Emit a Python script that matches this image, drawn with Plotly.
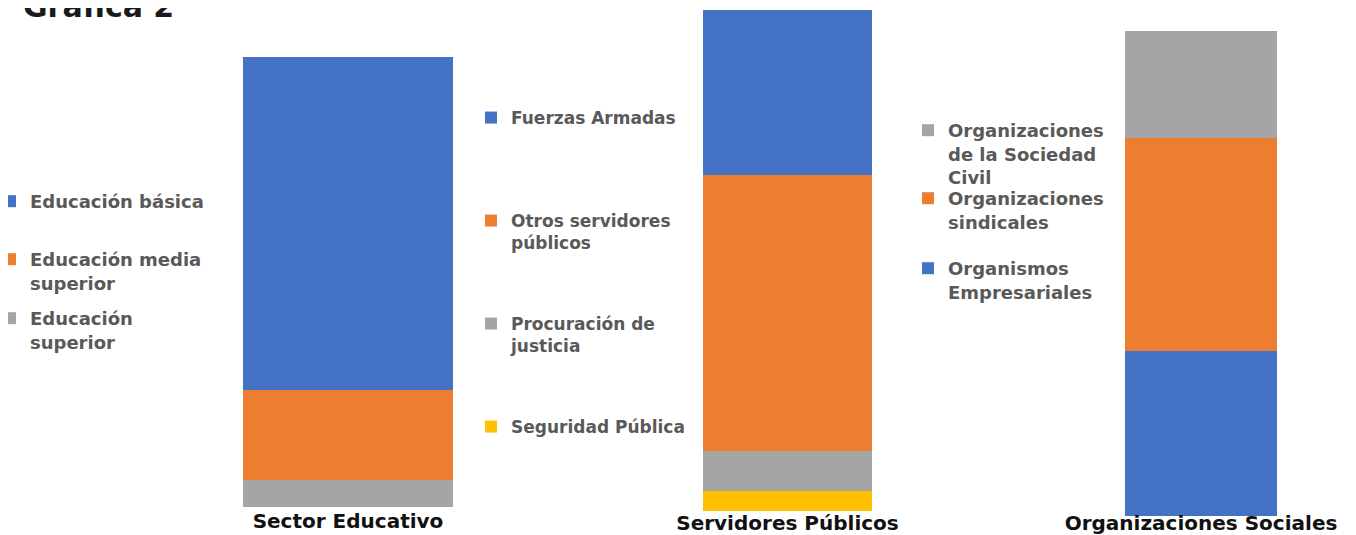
import plotly.graph_objects as go

W, H = 1356, 535
OFF = 8  # page margin offset of the figure inside the window
FONT = "DejaVu Sans"

BLUE, ORANGE, GREY, YELLOW = "#4472C4", "#ED7D31", "#A5A5A5", "#FFC000"

groups = ["Sector Educativo", "Servidores Públicos", "Organizaciones Sociales"]

# stacking order: bottom -> top
edu_labels = ["Educación<br>superior", "Educación media<br>superior", "Educación básica"]
edu_values = [6, 20, 74]
edu_colors = [GREY, ORANGE, BLUE]

pub_labels = ["Seguridad Pública", "Procuración de<br>justicia", "Otros servidores<br>públicos", "Fuerzas Armadas"]
pub_values = [4, 8, 55, 33]
pub_colors = [YELLOW, GREY, ORANGE, BLUE]

org_labels = ["Organismos<br>Empresariales", "Organizaciones<br>sindicales", "Organizaciones<br>de la Sociedad<br>Civil"]
org_values = [34, 44, 22]
org_colors = [BLUE, ORANGE, GREY]

# layout of each panel (window pixels): bar x extents, bar top/bottom, legend entries (text x, first line centre y)
panels = [
    dict(labels=edu_labels, values=edu_values, colors=edu_colors,
         x0=243, x1=453, ytop=57, ybot=507, standoff=0, legsize=18,
         leg=[(30, 318), (30, 259), (30, 201)]),
    dict(labels=pub_labels, values=pub_values, colors=pub_colors,
         x0=703, x1=872, ytop=10, ybot=511, standoff=-2, legsize=17,
         leg=[(511, 426), (511, 323), (511, 220), (511, 117)]),
    dict(labels=org_labels, values=org_values, colors=org_colors,
         x0=1125, x1=1277, ytop=31, ybot=516, standoff=-7, legsize=18,
         leg=[(948, 268), (948, 198), (948, 130)]),
]


def px(x):
    return (x - OFF) / W


def py(y):
    return 1 - (y - OFF) / H


fig = go.Figure()
layout = dict(
    width=W, height=H, margin=dict(l=0, r=0, t=0, b=0, autoexpand=False),
    paper_bgcolor="white", plot_bgcolor="white",
    barmode="stack", bargap=0,
    font=dict(family=FONT, color="#595959"),
    annotations=[dict(
        text="Gráfica 2", xref="paper", yref="paper", x=px(21), xanchor="left",
        y=py(7), yanchor="middle", showarrow=False,
        font=dict(family=FONT, size=30, color="#1a1a1a", weight="bold"),
    )],
)

leg_n = 1
for i, p in enumerate(panels):
    sfx = "" if i == 0 else str(i + 1)
    for lab, val, col, (lx, ly) in zip(p["labels"], p["values"], p["colors"], p["leg"]):
        lname = "legend" if leg_n == 1 else f"legend{leg_n}"
        fig.add_trace(go.Bar(
            x=[groups[i]], y=[val], name=lab, marker=dict(color=col, line=dict(width=0)),
            xaxis="x" + sfx, yaxis="y" + sfx, legend=lname, showlegend=True,
        ))
        layout[lname] = dict(
            x=px(lx - 40), xanchor="left", y=py(ly - p["legsize"]), yanchor="top",
            bgcolor="rgba(0,0,0,0)", borderwidth=0, valign="top",
            font=dict(family=FONT, size=p["legsize"], color="#595959", weight="bold"),
        )
        leg_n += 1
    total = sum(p["values"])
    yb, yt = p["ybot"] - OFF, p["ytop"] - OFF
    layout["xaxis" + sfx] = dict(
        domain=[px(p["x0"]), px(p["x1"])], anchor="y" + sfx, showgrid=False,
        showline=False, zeroline=False, ticks="", automargin=False,
        ticklabelstandoff=p["standoff"],
        tickfont=dict(family=FONT, size=20, color="#111111", weight="bold"),
    )
    layout["yaxis" + sfx] = dict(
        domain=[(H - yb) / H, 1], anchor="x" + sfx,
        range=[0, total * yb / (yb - yt)],
        visible=False, showgrid=False, zeroline=False,
    )

fig.update_layout(**layout)
fig.write_html("out.html")
